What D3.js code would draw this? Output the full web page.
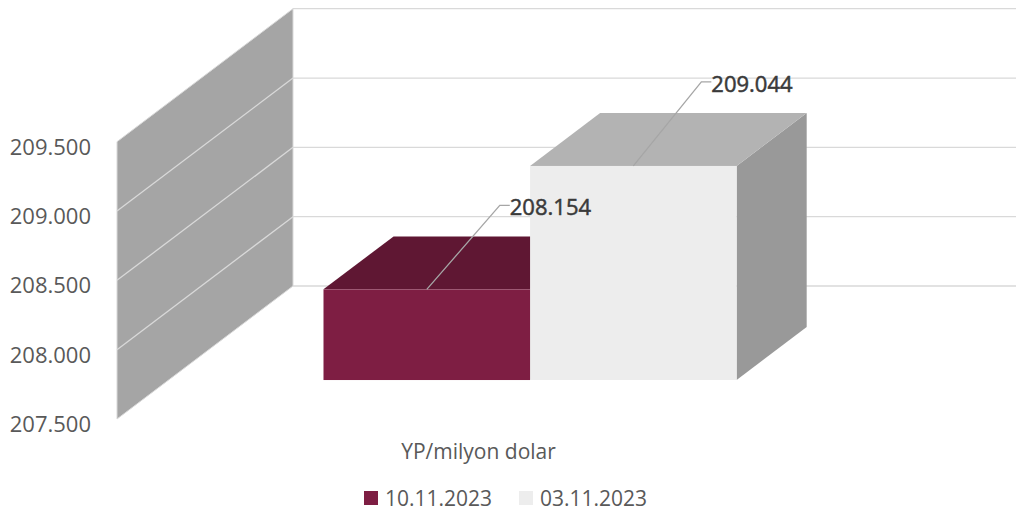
<!DOCTYPE html>
<html><head><meta charset="utf-8">
<script src="https://cdn.jsdelivr.net/npm/d3@7"></script>
<style>body{margin:0;background:#fff}svg{display:block}text{font-family:"Open Sans",sans-serif}</style>
</head><body><div id="chart"></div>
<script>
const categories = ["YP/milyon dolar"];
const series = ["10.11.2023", "03.11.2023"];
const values = [208.154, 209.044];
const valueLabels = ["208.154", "209.044"];
const yTicks = [207.5, 208.0, 208.5, 209.0, 209.5];
const yTickLabels = ["207.500", "208.000", "208.500", "209.000", "209.500"];

const W = 1022, H = 511;
const svg = d3.select("#chart").append("svg").attr("width", W).attr("height", H);

// oblique 3D projection
const depth = {x: 176, y: -133};
const d0 = 0.293, d1 = 0.691;
const y = d3.scaleLinear().domain([207.5, 209.5]).range([419, 141.7]);
const x0 = d3.scaleBand().domain(categories).range([117, 840]).paddingInner(0).paddingOuter(0.375);
const x1 = d3.scaleBand().domain(series).range([0, x0.bandwidth()]);
const colors = {
  "10.11.2023": {front: "#7E1E43", top: "#5F1733", side: "#5A1530"},
  "03.11.2023": {front: "#EDEDED", top: "#B3B3B3", side: "#999999"}
};
const P = (px, py, d) => [px + depth.x * d, py + depth.y * d];
const poly = pts => pts.map(p => p.join(",")).join(" ");

const [xl, xr] = x0.range();
// left wall
svg.append("polygon")
  .attr("points", poly([P(xl, y(207.5), 0), P(xl, y(209.5), 0), P(xl, y(209.5), 1), P(xl, y(207.5), 1)]))
  .attr("fill", "#A5A5A5").attr("stroke", "#D9D9D9").attr("stroke-width", 1);
// wall gridlines
yTicks.forEach(t => {
  const a = P(xl, y(t), 0), b = P(xl, y(t), 1), c = P(xr, y(t), 1);
  if (t > 207.5 && t < 209.5)
    svg.append("line").attr("x1", a[0]).attr("y1", a[1]).attr("x2", b[0]).attr("y2", b[1])
      .attr("stroke", "#D9D9D9").attr("stroke-width", 1.3);
  svg.append("line").attr("x1", b[0]).attr("y1", b[1]).attr("x2", c[0]).attr("y2", c[1])
    .attr("stroke", "#D9D9D9").attr("stroke-width", 1.3);
});

// y axis labels
svg.append("g").selectAll("text").data(yTicks).join("text")
  .attr("x", 91).attr("y", t => y(t) + 4)
  .attr("text-anchor", "end").attr("dominant-baseline", "central")
  .attr("font-size", 22).attr("fill", "#595959")
  .text((t, i) => yTickLabels[i]);

// bars
categories.forEach(cat => {
  series.forEach((s, i) => {
    const v = values[i];
    const L = x0(cat) + x1(s), R = L + x1.bandwidth();
    const yt = y(v), yb = y(207.5);
    const c = colors[s];
    const g = svg.append("g");
    g.append("polygon").attr("points", poly([P(R, yt, d0), P(R, yt, d1), P(R, yb, d1), P(R, yb, d0)])).attr("fill", c.side);
    g.append("polygon").attr("points", poly([P(L, yt, d0), P(L, yt, d1), P(R, yt, d1), P(R, yt, d0)])).attr("fill", c.top);
    const f0 = P(L, yt, d0), f1 = P(R, yb, d0);
    g.append("rect").attr("x", f0[0]).attr("y", f0[1]).attr("width", f1[0] - f0[0]).attr("height", f1[1] - f0[1]).attr("fill", c.front);
  });
});

// data labels with leader lines
const labelOffsets = [[73, -84], [68, -84]];
series.forEach((s, i) => {
  const L = x0(categories[0]) + x1(s), R = L + x1.bandwidth();
  const a = P((L + R) / 2, y(values[i]), d0);
  const e = [a[0] + labelOffsets[i][0], a[1] + labelOffsets[i][1]];
  svg.append("polyline").attr("points", poly([a, e, [e[0] + 10, e[1]]]))
    .attr("fill", "none").attr("stroke", "#A6A6A6").attr("stroke-width", 1.3);
  svg.append("text").attr("x", e[0] + 10).attr("y", e[1] + 1)
    .attr("dominant-baseline", "central").attr("font-size", 22).attr("fill", "#3A3A3A")
    .attr("stroke", "#3A3A3A").attr("stroke-width", 0.5)
    .text(valueLabels[i]);
});

// category label
svg.append("text").attr("x", x0(categories[0]) + x0.bandwidth() / 2).attr("y", 451)
  .attr("text-anchor", "middle").attr("dominant-baseline", "central")
  .attr("font-size", 21).attr("fill", "#595959").text(categories[0]);

// legend
const legendX = [364, 519];
series.forEach((s, i) => {
  svg.append("rect").attr("x", legendX[i]).attr("y", 491).attr("width", 14).attr("height", 14).attr("fill", colors[s].front);
  svg.append("text").attr("x", legendX[i] + 21).attr("y", 498).attr("dominant-baseline", "central")
    .attr("font-size", 21).attr("fill", "#595959").text(s);
});
</script></body></html>
